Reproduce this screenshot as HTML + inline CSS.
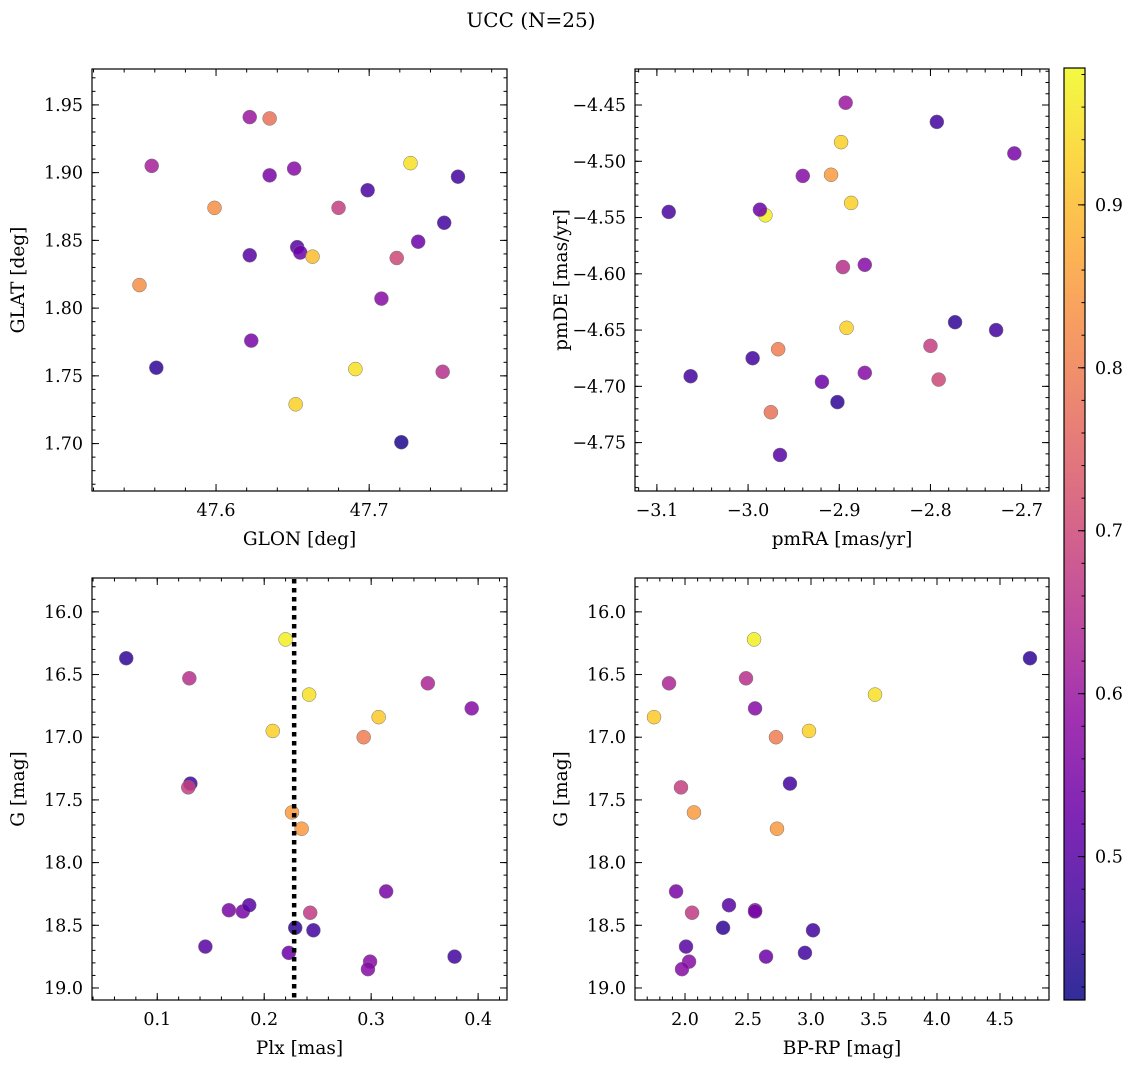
<!DOCTYPE html>
<html><head><meta charset="utf-8"><style>
body{margin:0;background:#fff;}
svg text{font-family:"DejaVu Serif","Liberation Serif",serif;fill:#000;}
</style></head><body>
<svg id="fig" width="1136" height="1068" xmlns="http://www.w3.org/2000/svg">
<text x="531" y="27" font-size="20" text-anchor="middle">UCC (N=25)</text>
</svg>
<script>
// Panel 1: GLON vs GLAT
const p1X=[47.622,47.635,47.558,47.635,47.651,47.727,47.699,47.758,47.599,47.680,47.749,47.622,47.653,47.655,47.663,47.732,47.718,47.550,47.708,47.623,47.561,47.691,47.748,47.652,47.721];
const p1Y=[1.941,1.940,1.905,1.898,1.903,1.907,1.887,1.897,1.874,1.874,1.863,1.839,1.845,1.841,1.838,1.849,1.837,1.817,1.807,1.776,1.756,1.755,1.753,1.729,1.701];
const p1P=[0.60,0.78,0.62,0.55,0.57,0.95,0.48,0.47,0.83,0.68,0.47,0.50,0.50,0.53,0.90,0.53,0.70,0.83,0.57,0.55,0.45,0.95,0.65,0.93,0.43];
// Panel 2: pmRA vs pmDE
const p2X=[-2.893,-2.793,-2.708,-2.898,-2.909,-2.940,-3.087,-2.981,-2.987,-2.887,-2.896,-2.872,-2.892,-2.773,-2.728,-2.995,-2.967,-3.063,-2.919,-2.800,-2.791,-2.872,-2.975,-2.902,-2.965];
const p2Y=[-4.448,-4.465,-4.493,-4.483,-4.512,-4.513,-4.545,-4.548,-4.543,-4.537,-4.594,-4.592,-4.648,-4.643,-4.650,-4.675,-4.667,-4.691,-4.696,-4.664,-4.694,-4.688,-4.723,-4.714,-4.761];
const p2P=[0.60,0.47,0.55,0.93,0.85,0.57,0.48,0.97,0.53,0.93,0.65,0.57,0.93,0.45,0.47,0.47,0.80,0.47,0.53,0.68,0.70,0.57,0.78,0.45,0.50];
// Panel 3: Plx vs G
const p3X=[0.071,0.130,0.220,0.242,0.353,0.394,0.307,0.208,0.293,0.131,0.129,0.226,0.235,0.314,0.167,0.180,0.186,0.243,0.229,0.246,0.145,0.223,0.378,0.299,0.297];
const p3Y=[16.37,16.53,16.22,16.66,16.57,16.77,16.84,16.95,17.00,17.37,17.40,17.60,17.73,18.23,18.38,18.39,18.34,18.40,18.52,18.54,18.67,18.72,18.75,18.79,18.85];
const p3P=[0.45,0.65,0.97,0.95,0.63,0.57,0.92,0.93,0.80,0.47,0.68,0.85,0.85,0.55,0.55,0.55,0.50,0.67,0.45,0.47,0.50,0.53,0.47,0.57,0.57];
const plxLine=[0.228];
// Panel 4: BP-RP vs G
const p4X=[2.548,4.738,1.873,2.484,3.508,2.556,1.754,2.984,2.722,2.833,1.968,2.071,2.730,1.929,2.056,2.349,2.556,2.556,2.302,3.016,2.008,2.952,2.643,2.032,1.976];
const p4Y=[16.22,16.37,16.57,16.53,16.66,16.77,16.84,16.95,17.00,17.37,17.40,17.60,17.73,18.23,18.40,18.34,18.38,18.39,18.52,18.54,18.67,18.72,18.75,18.79,18.85];
const p4P=[0.97,0.45,0.63,0.65,0.95,0.57,0.92,0.93,0.80,0.47,0.68,0.85,0.85,0.55,0.67,0.50,0.55,0.55,0.45,0.47,0.50,0.47,0.53,0.57,0.57];
const cbTicks=[0.5,0.6,0.7,0.8,0.9];

const NS="http://www.w3.org/2000/svg";
const svg=document.getElementById('fig');
const vmin=0.412,vmax=0.984;
const stops=["#0d0887","#41049d","#6a00a8","#8f0da4","#b12a90","#cc4778","#e16462","#f2844b","#fca636","#fcce25","#f0f921"];
function hex(h){return [1,3,5].map(i=>parseInt(h.substr(i,2),16));}
function plasma(t){t=Math.max(0,Math.min(1,t));const f=t*10,i=Math.min(9,Math.floor(f)),u=f-i;const a=hex(stops[i]),b=hex(stops[i+1]);return 'rgb('+a.map((v,k)=>Math.round(v+(b[k]-v)*u)).join(',')+')';}
function col(p){return plasma((p-vmin)/(vmax-vmin));}
function mk(tag,attrs,parent){const e=document.createElementNS(NS,tag);for(const k in attrs)e.setAttribute(k,attrs[k]);(parent||svg).appendChild(e);return e;}
function fmt(v,d){return v.toFixed(d).replace('-','\u2212');}

function panel(name,box,xr,yr,xt,yt,xm,ym,xd,yd,xlab,ylab,xs,ys,ps,yInv){
  const [L,T,R,B]=box;
  const g=mk('g',{});
  
  
  const sx=v=>L+(v-xr[0])/(xr[1]-xr[0])*(R-L);
  const sy=yInv?(v=>T+(v-yr[0])/(yr[1]-yr[0])*(B-T)):(v=>B-(v-yr[0])/(yr[1]-yr[0])*(B-T));
  for(let i=0;i<xs.length;i++){
    const c=mk('circle',{cx:sx(xs[i]),cy:sy(ys[i]),r:7,fill:col(ps[i]),'fill-opacity':0.85,stroke:'#777','stroke-width':0.5},g);
    
    
  }
  const tk=(v0,v1,step,len,axis)=>{
    const n0=Math.ceil(v0/step-1e-6),n1=Math.floor(v1/step+1e-6);
    for(let n=n0;n<=n1;n++){const v=n*step;
      if(axis==='x'){const x=sx(v);mk('line',{x1:x,x2:x,y1:B,y2:B-len,stroke:'#000'},g);mk('line',{x1:x,x2:x,y1:T,y2:T+len,stroke:'#000'},g);}
      else{const y=sy(v);mk('line',{x1:L,x2:L+len,y1:y,y2:y,stroke:'#000'},g);mk('line',{x1:R,x2:R-len,y1:y,y2:y,stroke:'#000'},g);}
    }
    return [n0,n1];
  };
  tk(xr[0],xr[1],xm,3.5,'x');tk(Math.min(...yr),Math.max(...yr),ym,3.5,'y');
  let [a,b]=tk(xr[0],xr[1],xt,7,'x');
  for(let n=a;n<=b;n++){const t=mk('text',{x:sx(n*xt),y:B+25,'font-size':17.5,'text-anchor':'middle'},g);t.textContent=fmt(n*xt,xd);}
  [a,b]=tk(Math.min(...yr),Math.max(...yr),yt,7,'y');
  for(let n=a;n<=b;n++){const t=mk('text',{x:L-9,y:sy(n*yt)+6,'font-size':17.5,'text-anchor':'end'},g);t.textContent=fmt(n*yt,yd);}
  mk('rect',{x:L,y:T,width:R-L,height:B-T,fill:'none',stroke:'#000','stroke-width':1.2},g);
  const xl=mk('text',{x:(L+R)/2,y:B+54,'font-size':18.5,'text-anchor':'middle'},g);xl.textContent=xlab;
  
  const yl=mk('text',{x:0,y:0,'font-size':18.5,'text-anchor':'middle',transform:`translate(${L-68},${(T+B)/2}) rotate(-90)`},g);yl.textContent=ylab;
  
  return {sx,sy,g};
}
panel('glon-glat-panel',[92,69,507,491],[47.519,47.790],[1.665,1.9765],0.1,0.05,0.02,0.01,1,2,'GLON [deg]','GLAT [deg]',p1X,p1Y,p1P,false);
panel('pm-panel',[635,69,1049,491],[-3.124,-2.670],[-4.793,-4.418],0.1,0.05,0.02,0.01,1,2,'pmRA [mas/yr]','pmDE [mas/yr]',p2X,p2Y,p2P,false);
const p3=panel('plx-g-panel',[92,578,507,1000],[0.039,0.427],[15.73,19.096],0.1,0.5,0.02,0.1,1,1,'Plx [mas]','G [mag]',p3X,p3Y,p3P,true);
plxLine.forEach(v=>{const l=mk('line',{x1:p3.sx(v),x2:p3.sx(v),y1:579,y2:999,stroke:'#000','stroke-width':4.5,'stroke-dasharray':'4.5 4.5'},p3.g);});
panel('cmd-panel',[635,578,1049,1000],[1.603,4.889],[15.73,19.096],0.5,0.5,0.1,0.1,1,1,'BP-RP [mag]','G [mag]',p4X,p4Y,p4P,true);

// colorbar
const defs=mk('defs',{});
const lg=mk('linearGradient',{id:'cbg',x1:0,y1:1,x2:0,y2:0},defs);
for(let i=0;i<=20;i++)mk('stop',{offset:i/20,'stop-color':plasma(i/20)},lg);
const cb=mk('g',{});


const cT=68,cB=1000,cL=1064,cR=1085;
mk('rect',{x:cL,y:cT,width:cR-cL,height:cB-cT,fill:'url(#cbg)','fill-opacity':0.85},cb);
const cy=v=>cB-(v-vmin)/(vmax-vmin)*(cB-cT);
for(let n=Math.ceil(vmin/0.02);n<=Math.floor(vmax/0.02);n++){const y=cy(n*0.02);mk('line',{x1:cR,x2:cR-3.5,y1:y,y2:y,stroke:'#000'},cb);}
cbTicks.forEach(v=>{const y=cy(v);mk('line',{x1:cR,x2:cR-7,y1:y,y2:y,stroke:'#000'},cb);
  const t=mk('text',{x:cR+10,y:y+6,'font-size':17.5},cb);t.textContent=v.toFixed(1);});
mk('rect',{x:cL,y:cT,width:cR-cL,height:cB-cT,fill:'none',stroke:'#000','stroke-width':1.2},cb);
</script>
</body></html>
